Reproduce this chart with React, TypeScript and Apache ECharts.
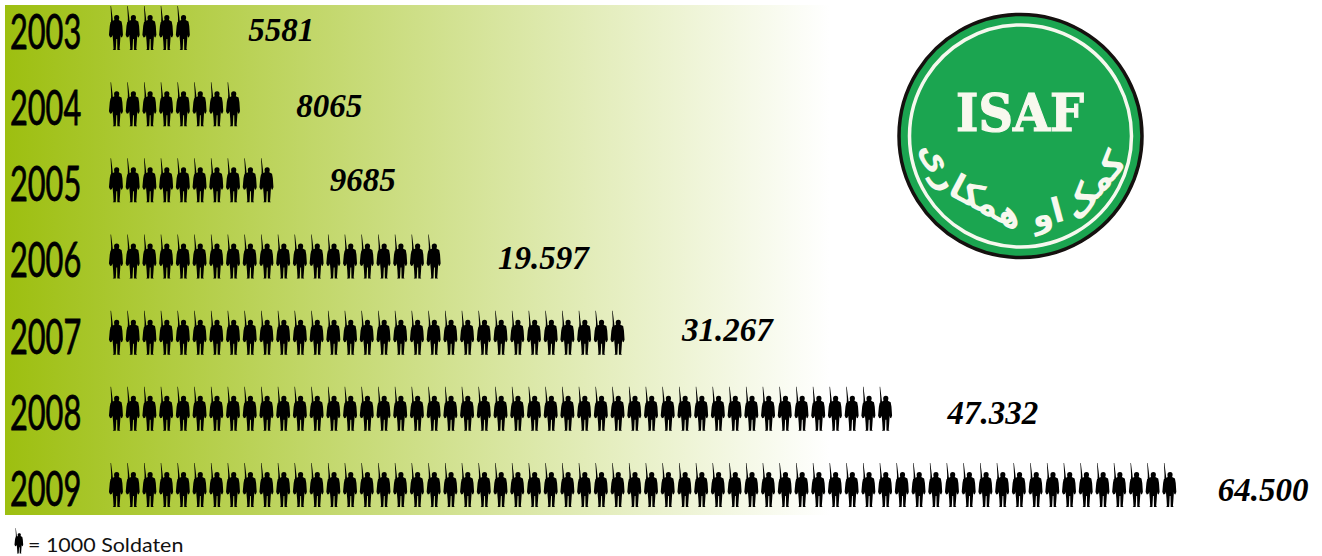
import React, { useEffect, useRef } from "react";
import * as echarts from "echarts";

const years = ["2003", "2004", "2005", "2006", "2007", "2008", "2009"];
const soldierIcons = [5, 8, 10, 20, 31, 47, 64];
const strengthLabels = ["5581", "8065", "9685", "19.597", "31.267", "47.332", "64.500"];
const labelGaps = [57, 55, 55, 56, 56, 54, 40];
const labelNudges = [2, 2, 0, 1, -3, 4, 5];
const logoWords = [
  { text: "کمک", x: 1094, y: 185, deg: 50 },
  { text: "او", x: 1047, y: 213, deg: 15 },
  { text: "همکا", x: 987, y: 202, deg: -28 },
  { text: "ری", x: 941, y: 165, deg: -62 },
];

const SOLDIER =
  "M1.6 0 L2.1 0 L3.6 12 L4 16 L2 17 L2.2 12 Z " +
  "M7.8 9 C9.6 9 10.4 10.2 10.3 12 L9.8 14 L12.6 15.4 L13.4 20 L14 29 L13 31.5 L12 31 L11.6 29 L11 38 L10.6 43 L11.4 44 L8.4 44 L8.2 33 L7.4 33 L6.8 44 L3.8 44 L4.6 43 L4.2 36 L3.6 29 L2.8 31 L1.2 31.5 L0 29 L0.8 20 L1.6 16 L5.4 14 L5.1 12 C5 10.2 6 9 7.8 9 Z";

echarts.graphic.registerShape("soldierIcon", echarts.graphic.extendPath(SOLDIER, {}) as any);

export default function App() {
  const ref = useRef<HTMLDivElement>(null);
  useEffect(() => {
    const chart = echarts.init(ref.current!, null, { renderer: "svg" });
    const rows = years.map((y, i) => [soldierIcons[i], y]);
    chart.setOption({
      animation: false,
      backgroundColor: "#ffffff",
      grid: { left: 107.6, top: 28, width: 1170.4, height: 457, containLabel: false },
      xAxis: { type: "value", min: 0, max: 70, show: false },
      yAxis: { type: "category", data: years, inverse: true, show: false, boundaryGap: false },
      graphic: [
        {
          type: "rect",
          z: -10,
          shape: { x: 5, y: 5, width: 825, height: 510 },
          style: {
            fill: {
              type: "linear", x: 0, y: 0, x2: 1, y2: 0,
              colorStops: [
                { offset: 0, color: "#9dbf10" },
                { offset: 1, color: "#ffffff" },
              ],
            },
          },
        },
        { type: "circle", shape: { cx: 1020.5, cy: 136, r: 121.5 }, style: { fill: "#1ba550", stroke: "#15110f", lineWidth: 3.5 } },
        { type: "circle", shape: { cx: 1020.5, cy: 136, r: 111 }, style: { fill: "none", stroke: "#f6f8ee", lineWidth: 3.5 } },
        {
          type: "text", x: 1020, y: 113, scaleX: 0.92,
          style: { text: "ISAF", fill: "#f8f8ee", stroke: "#f8f8ee", lineWidth: 1.2, fontFamily: "DejaVu Serif", fontWeight: "bold", fontSize: 52, align: "center", verticalAlign: "middle" },
        },
        ...logoWords.map((w) => ({
          type: "text", x: w.x, y: w.y, rotation: (w.deg * Math.PI) / 180,
          style: { text: w.text, fill: "#f8f8ee", fontFamily: "DejaVu Sans", fontWeight: "bold", fontSize: 34, align: "center", verticalAlign: "middle" },
        })),
        { type: "soldierIcon", x: 14.5, y: 528, scaleX: 0.62, scaleY: 0.58, style: { fill: "#000000" } },
        {
          type: "text", x: 28, y: 544.5, scaleX: 1.1,
          style: { text: "= 1000 Soldaten", fill: "#111111", fontFamily: "Lato", fontSize: 19.5, align: "left", verticalAlign: "middle" },
        },
      ],
      series: [
        {
          type: "pictorialBar",
          data: soldierIcons,
          symbol: "path://" + SOLDIER,
          symbolSize: [14, 44],
          symbolRepeat: true,
          symbolMargin: "1.36!",
          symbolPosition: "start",
          barWidth: 44,
          itemStyle: { color: "#000000" },
          silent: true,
        },
        {
          type: "custom",
          data: rows,
          clip: false,
          silent: true,
          renderItem: (_p: any, api: any) => {
            const i = _p.dataIndex;
            const pt = api.coord([api.value(0), api.value(1)]);
            return {
              type: "text", x: 10, y: pt[1] + 2.5, scaleX: 0.64,
              style: { text: years[i], fill: "#000000", stroke: "#000000", lineWidth: 0.8, fontFamily: "Lato", fontSize: 48, align: "left", verticalAlign: "middle" },
            };
          },
        },
        {
          type: "custom",
          data: rows,
          clip: false,
          silent: true,
          renderItem: (_p: any, api: any) => {
            const i = _p.dataIndex;
            const pt = api.coord([api.value(0), api.value(1)]);
            return {
              type: "text", x: pt[0] + labelGaps[i], y: pt[1] + labelNudges[i],
              style: { text: strengthLabels[i], fill: "#000000", fontFamily: "Liberation Serif", fontStyle: "italic", fontWeight: "bold", fontSize: 33, align: "left", verticalAlign: "middle" },
            };
          },
        },
      ],
    });
    return () => chart.dispose();
  }, []);
  return <div ref={ref} style={{ position: "absolute", left: 0, top: 0, width: 1322, height: 556 }} />;
}
